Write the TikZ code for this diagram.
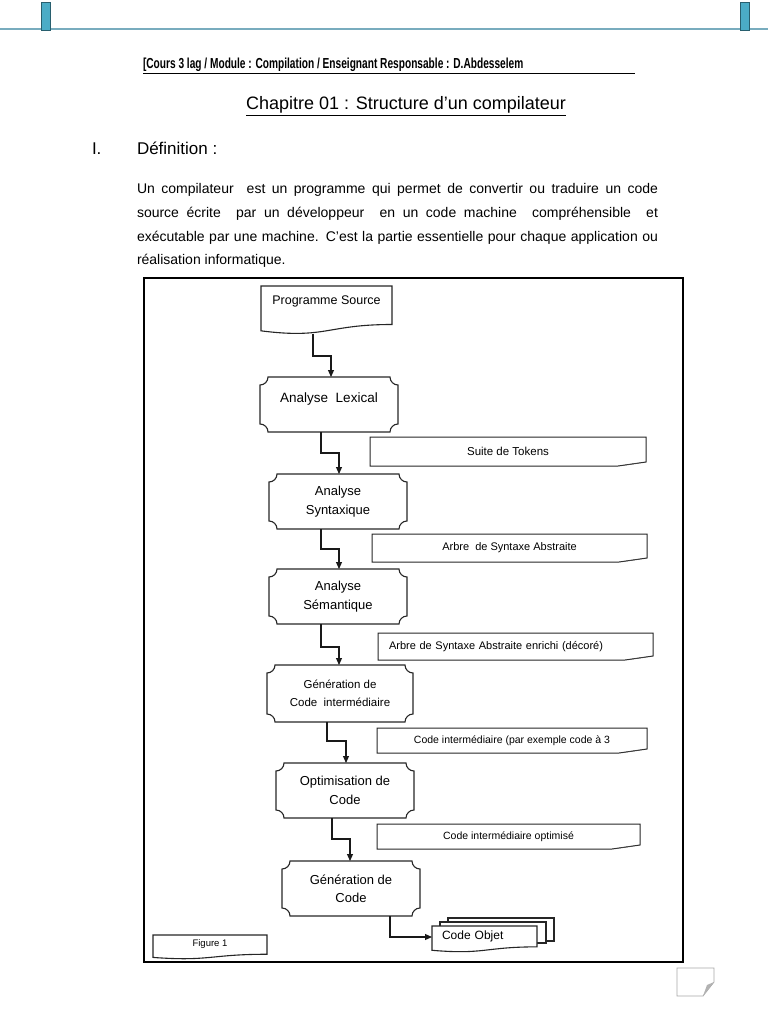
\documentclass[tikz,border=0pt]{standalone}
\usepackage{fontspec}
\setmainfont{Liberation Sans}
\usetikzlibrary{arrows.meta,calc,backgrounds}
\definecolor{tealline}{RGB}{120,172,190}
\definecolor{tealfill}{RGB}{75,172,198}
\definecolor{tealdark}{RGB}{40,95,110}
\tikzset{
  shapeline/.style={draw=black!85, line width=1.1pt},
  notepath/.style={draw=black!85, line width=1pt},
  box/.style={inner sep=0pt, outer sep=0pt, align=center},
  arr/.style={line width=1.1pt, draw=black!90, -{Triangle[length=7pt,width=6pt]}},
  lbl/.style={inner sep=0pt, outer sep=0pt},
}
\newcommand\plaqueoutline[1]{%
  \draw[shapeline] ([xshift=8pt]#1.north west) -- ([xshift=-8pt]#1.north east)
   .. controls ([xshift=-8pt,yshift=-4.4pt]#1.north east) and ([xshift=-4.4pt,yshift=-8pt]#1.north east) .. ([yshift=-8pt]#1.north east)
   -- ([yshift=8pt]#1.south east)
   .. controls ([xshift=-4.4pt,yshift=8pt]#1.south east) and ([xshift=-8pt,yshift=4.4pt]#1.south east) .. ([xshift=-8pt]#1.south east)
   -- ([xshift=8pt]#1.south west)
   .. controls ([xshift=8pt,yshift=4.4pt]#1.south west) and ([xshift=4.4pt,yshift=8pt]#1.south west) .. ([yshift=8pt]#1.south west)
   -- ([yshift=-8pt]#1.north west)
   .. controls ([xshift=4.4pt,yshift=-8pt]#1.north west) and ([xshift=8pt,yshift=-4.4pt]#1.north west) .. cycle;}
\newcommand\docoutline[1]{%
  \draw[shapeline, fill=white] (#1.north west) -- (#1.north east) -- ($(#1.north east)!0.802!(#1.south east)$)
   .. controls ($(#1.north)!0.802!(#1.south)$) and ($(#1.north)!1.108!(#1.south)$) .. ($(#1.north west)!0.934!(#1.south west)$) -- cycle;}
\newcommand\noteoutline[1]{%
  \draw[notepath] (#1.north west) -- (#1.north east) -- ([yshift=4pt]#1.south east)
   -- ([xshift=-28pt]#1.south east) -- (#1.south west) -- cycle;
  \fill[black!70] ([xshift=-28pt]#1.south east) .. controls ([xshift=-18pt,yshift=1pt]#1.south east) .. ([yshift=4pt]#1.south east)
   -- ([xshift=-12pt,yshift=2.5pt]#1.south east) -- cycle;}
\begin{document}
\begin{tikzpicture}[x=1pt,y=-1pt]
\useasboundingbox (0,0) rectangle (768,1024);
% top decoration
\draw[tealline, line width=2pt] (0,29) -- (768,29);
\draw[tealdark, fill=tealfill, line width=0.8pt] (41,2) rectangle (50,30);
\draw[tealdark, fill=tealfill, line width=0.8pt] (740,2) rectangle (749,30);
% header
\node[lbl, anchor=base west] (hdr) at (143,69) {\scalebox{0.7}[1]{\fontsize{14.5}{16}\selectfont\bfseries [Cours 3 lag / Module : Compilation / Enseignant Responsable : D.Abdesselem}};
\draw[line width=0.9pt] (143,73) -- (635,73);
% title
\node[lbl, anchor=base] (title) at (406,110) {\fontsize{18}{21}\selectfont\underline{Chapitre 01 : Structure d'un compilateur}};
\node[lbl, anchor=base west] (num) at (92,155) {\fontsize{17}{20}\selectfont I.};
\node[lbl, anchor=base west] (def) at (137,155) {\fontsize{17}{20}\selectfont Définition :};
% paragraph
\node[lbl, anchor=base west] (p1) at (137,194) {\fontsize{14}{17}\selectfont\makebox[521pt][s]{Un compilateur \ est un programme qui permet de convertir ou traduire un code}};
\node[lbl, anchor=base west] (p2) at (137,217.5) {\fontsize{14}{17}\selectfont\makebox[521pt][s]{source écrite \ par un développeur \ en un code machine \ compréhensible \ et}};
\node[lbl, anchor=base west] (p3) at (137,241) {\fontsize{14}{17}\selectfont\makebox[521pt][s]{exécutable par une machine. C'est la partie essentielle pour chaque application ou}};
\node[lbl, anchor=base west] (p4) at (137,264) {\fontsize{14}{17}\selectfont réalisation informatique.};
% frame
\draw[line width=1.1pt] (144,278) rectangle (683,962);
% main chain
\node[box, minimum width=131pt, minimum height=48pt, font=\fontsize{12.5}{14}\selectfont, text height=9pt, text depth=20pt] (ps) at (326.5,310) {Programme Source};
\begin{scope}[on background layer]\docoutline{ps}\end{scope}
\node[box, minimum width=138pt, minimum height=55pt, font=\fontsize{13.5}{16}\selectfont, text height=10pt, text depth=14pt] (lex) at (329,404.5) {Analyse \ Lexical};
\plaqueoutline{lex}
\node[box, minimum width=138pt, minimum height=55pt, font=\fontsize{13}{19}\selectfont] (syn) at (338,501.5) {Analyse\\Syntaxique};
\plaqueoutline{syn}
\node[box, minimum width=138pt, minimum height=55pt, font=\fontsize{13}{19}\selectfont] (sem) at (338,596.5) {Analyse\\Sémantique};
\plaqueoutline{sem}
\node[box, minimum width=146pt, minimum height=57pt, font=\fontsize{11.5}{18}\selectfont] (gci) at (340,693.5) {Génération de\\Code \ intermédiaire};
\plaqueoutline{gci}
\node[box, minimum width=138pt, minimum height=55pt, font=\fontsize{13}{19}\selectfont] (opt) at (345,790.5) {Optimisation de\\Code};
\plaqueoutline{opt}
\node[box, minimum width=138pt, minimum height=55pt, font=\fontsize{13}{18}\selectfont] (gen) at (351,888.5) {Génération de\\Code};
\plaqueoutline{gen}
% notes
\node[box, minimum width=276pt, minimum height=29pt, font=\fontsize{11.5}{14}\selectfont] (tok) at (508,451.5) {Suite de Tokens};
\noteoutline{tok}
\node[box, minimum width=275pt, minimum height=28pt, font=\fontsize{11}{14}\selectfont] (ast) at (509.5,548) {Arbre \ de Syntaxe Abstraite};
\noteoutline{ast}
\node[box, minimum width=275pt, minimum height=27pt, font=\fontsize{11}{14}\selectfont, align=left, text width=253pt] (asd) at (515.5,646.5) {Arbre de Syntaxe Abstraite enrichi (décoré)};
\noteoutline{asd}
\node[box, minimum width=270pt, minimum height=25pt, font=\fontsize{10.5}{13}\selectfont] (ci3) at (512,740.5) {Code intermédiaire (par exemple code à 3};
\noteoutline{ci3}
\node[box, minimum width=263pt, minimum height=25pt, font=\fontsize{10.5}{13}\selectfont] (cio) at (508.5,836.5) {Code intermédiaire optimisé};
\noteoutline{cio}
% code objet (multidocument)
\node[box, minimum width=105pt, minimum height=26pt, font=\fontsize{12}{14}\selectfont, text height=9pt, text depth=9pt, align=left, text width=85pt] (obj) at (484.5,939) {Code Objet};
\begin{scope}[on background layer]
\draw[shapeline, fill=white] ([xshift=16pt,yshift=8pt]obj.north west) rectangle ([xshift=17pt,yshift=-15pt]obj.north east);
\draw[shapeline, fill=white] ([xshift=8pt,yshift=4pt]obj.north west) rectangle ([xshift=9pt,yshift=-17pt]obj.north east);
\docoutline{obj}
\end{scope}
% figure label
\node[box, minimum width=114pt, minimum height=24pt, font=\fontsize{9.5}{11}\selectfont, text height=7pt, text depth=9pt] (fig) at (210,947) {Figure 1};
\begin{scope}[on background layer]\docoutline{fig}\end{scope}
% connectors
\draw[arr] ([xshift=-13.5pt]ps.south) -- ++(0,22) -| ([xshift=2pt]lex.north);
\draw[arr] ([xshift=-8pt]lex.south) -- ++(0,21) -| ([xshift=1pt]syn.north);
\draw[arr] ([xshift=-17pt]syn.south) -- ++(0,20) -| ([xshift=1pt]sem.north);
\draw[arr] ([xshift=-17pt]sem.south) -- ++(0,23) -| ([xshift=-1pt]gci.north);
\draw[arr] ([xshift=-13pt]gci.south) -- ++(0,19) -| ([xshift=1pt]opt.north);
\draw[arr] ([xshift=-13pt]opt.south) -- ++(0,21) -| ([xshift=-1pt]gen.north);
\draw[arr] ([xshift=39pt]gen.south) |- ([yshift=2pt]obj.west);
% page curl icon
\draw[black!35, line width=0.8pt] (677,968) -- (714,968) -- (714,982) -- (703,996) -- (677,996) -- cycle;
\fill[black!30] (703,996) .. controls (705,990) .. (707,985) -- (714,982) -- cycle;
\end{tikzpicture}
\end{document}
